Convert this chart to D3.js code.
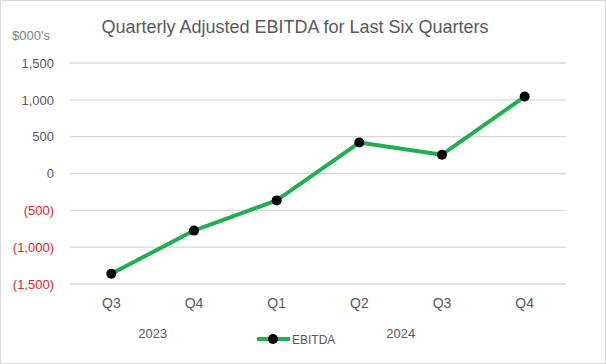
<!DOCTYPE html>
<html><head><meta charset="utf-8">
<script src="https://cdn.jsdelivr.net/npm/d3@7"></script>
<style>body{margin:0;background:#fff}svg{display:block}</style>
</head><body>
<svg id="c" width="606" height="364"></svg>
<script>
const quarters = ["Q3","Q4","Q1","Q2","Q3","Q4"];
const years = ["2023","2023","2024","2024","2024","2024"];
const ebitda = [-1360, -775, -365, 420, 255, 1045];
const yTicks = [1500,1000,500,0,-500,-1000,-1500];
const title = "Quarterly Adjusted EBITDA for Last Six Quarters";
const unit = "$000's";
const seriesName = "EBITDA";

const svg = d3.select("#c");
const font = "'Liberation Sans', Arial, sans-serif";
svg.append("rect").attr("x",0.5).attr("y",0.5).attr("width",605).attr("height",363)
  .attr("fill","#fff").attr("stroke","#d9d9d9");

const x = d3.scaleBand().domain(d3.range(quarters.length)).range([70,566]);
const y = d3.scaleLinear().domain([-1500,1500]).range([284,63]);

// gridlines
svg.append("g").selectAll("line").data(yTicks).join("line")
  .attr("x1",70).attr("x2",566).attr("y1",d=>y(d)).attr("y2",d=>y(d))
  .attr("stroke","#d9d9d9").attr("stroke-width",1.3);

const fmt = d => d < 0 ? "(" + d3.format(",")(-d) + ")" : d3.format(",")(d);
const yAxis = d3.axisLeft(y).tickValues(yTicks).tickFormat(fmt).tickSize(0).tickPadding(0);
const ya = svg.append("g").attr("transform","translate(54,0)").call(yAxis);
ya.select(".domain").remove();
ya.selectAll("text").attr("font-family",font).attr("font-size",13)
  .attr("fill",d=>d<0?"#d92626":"#595959");

const xAxis = d3.axisBottom(x).tickFormat(i=>quarters[i]).tickSize(0).tickPadding(0);
const xa = svg.append("g").attr("transform","translate(0,298)").call(xAxis);
xa.select(".domain").remove();
xa.selectAll("text").attr("font-family",font).attr("font-size",14).attr("fill","#595959");

// year labels
const yearGroups = d3.groups(d3.range(years.length), i=>years[i]);
svg.append("g").selectAll("text").data(yearGroups).join("text")
  .attr("x",g=>(x(g[1][0]) + x(g[1][g[1].length-1]) + x.bandwidth())/2)
  .attr("y",338).attr("text-anchor","middle")
  .attr("font-family",font).attr("font-size",13).attr("fill","#595959").text(g=>g[0]);

// line
const line = d3.line().x((d,i)=>x(i)+x.bandwidth()/2).y(d=>y(d));
svg.append("path").datum(ebitda).attr("d",line).attr("fill","none")
  .attr("stroke","#1fae50").attr("stroke-width",4).attr("stroke-linejoin","round");
svg.append("g").selectAll("circle").data(ebitda).join("circle")
  .attr("cx",(d,i)=>x(i)+x.bandwidth()/2).attr("cy",d=>y(d)).attr("r",5).attr("fill","#000");

// title
svg.append("text").attr("x",295).attr("y",33).attr("text-anchor","middle")
  .attr("font-family",font).attr("font-size",18).attr("fill","#595959").text(title);
svg.append("text").attr("x",12).attr("y",40)
  .attr("font-family",font).attr("font-size",13).attr("fill","#7f7f7f").text(unit);

// legend
const lg = svg.append("g");
lg.append("line").attr("x1",257).attr("x2",290).attr("y1",339).attr("y2",339)
  .attr("stroke","#1fae50").attr("stroke-width",4);
lg.append("circle").attr("cx",273).attr("cy",339).attr("r",5).attr("fill","#000");
lg.append("text").attr("x",292).attr("y",344).attr("font-family",font).attr("font-size",12)
  .attr("fill","#595959").text(seriesName);
</script>
</body></html>
